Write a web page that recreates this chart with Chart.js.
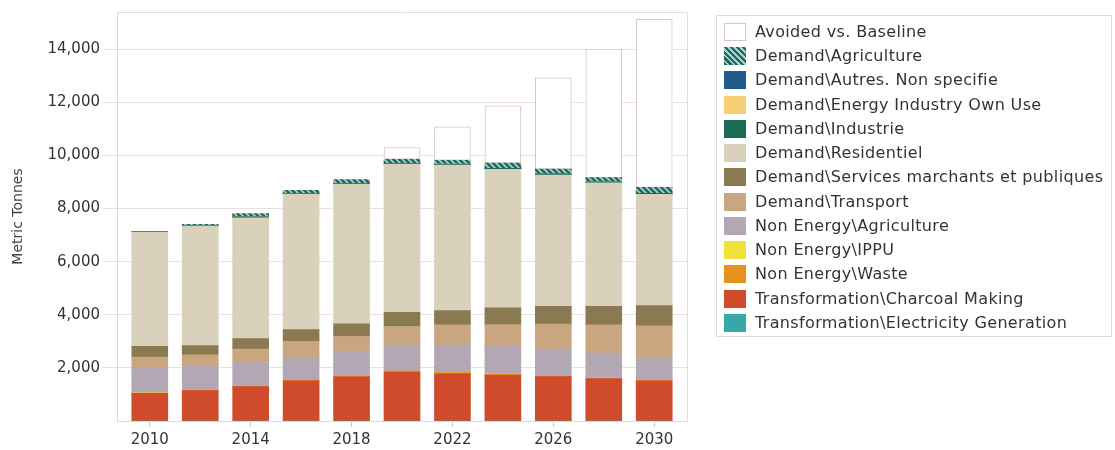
<!DOCTYPE html>
<html>
<head>
<meta charset="utf-8">
<script src="https://cdn.jsdelivr.net/npm/chart.js@4"></script>
<style>
  html,body{margin:0;padding:0;background:#fff;}
  #wrap{position:relative;width:1115px;height:450px;overflow:hidden;}
  #c{position:absolute;left:0;top:0;}
  #legend{position:absolute;left:716px;top:15px;width:396px;height:322px;border:1px solid #dcdcdc;box-sizing:border-box;
    font-family:"DejaVu Sans",sans-serif;font-size:16px;letter-spacing:0.35px;color:#333;}
  .item{position:absolute;left:7px;height:18px;line-height:18px;white-space:nowrap;}
  .sw{position:absolute;left:0;top:0;width:22px;height:18px;box-sizing:border-box;}
  .lt{position:absolute;left:31px;top:0;}
</style>
</head>
<body>
<div id="wrap">
<canvas id="c" width="1115" height="450"></canvas>
<div id="legend"></div>
</div>
<script>
// ---- data ----
const years = [2010, 2012, 2014, 2016, 2018, 2020, 2022, 2024, 2026, 2028, 2030];
const xTickLabels = [2010, 2014, 2018, 2022, 2026, 2030];
const yTickLabels = [2000, 4000, 6000, 8000, 10000, 12000, 14000];

const transElectricity = [0, 0, 0, 0, 0, 0, 0, 0, 0, 0, 0];
const transCharcoal    = [1045, 1145, 1296, 1510, 1660, 1840, 1790, 1730, 1670, 1600, 1510];
const neWaste          = [10, 15, 15, 20, 30, 35, 30, 30, 30, 30, 30];
const neIPPU           = [3, 3, 3, 3, 3, 3, 3, 3, 3, 3, 3];
const neAgriculture    = [935, 915, 890, 835, 925, 990, 1045, 1045, 1005, 920, 825];
const dTransport       = [415, 415, 505, 630, 565, 690, 755, 820, 945, 1070, 1220];
const dServices        = [400, 350, 390, 440, 480, 530, 530, 630, 665, 690, 755];
const dResidentiel     = [4300, 4490, 4555, 5095, 5245, 5575, 5485, 5220, 4945, 4655, 4190];
const dIndustrie       = [15, 20, 30, 30, 30, 30, 30, 35, 35, 35, 40];
const dEnergyOwnUse    = [2, 2, 2, 2, 2, 2, 2, 2, 2, 2, 2];
const dAutres          = [2, 2, 2, 2, 2, 2, 2, 2, 2, 2, 2];
const dAgriculture     = [10, 45, 120, 120, 145, 160, 145, 190, 180, 155, 220];
const avoided          = [0, 0, 0, 0, 0, 440, 1260, 2160, 3435, 4840, 6330];

// ---- styles ----
function hatch() {
  const p = document.createElement('canvas');
  p.width = 6; p.height = 6;
  const g = p.getContext('2d');
  g.fillStyle = '#a9d2cc'; g.fillRect(0, 0, 6, 6);
  g.strokeStyle = '#1c6a62'; g.lineWidth = 2.6;
  g.beginPath();
  g.moveTo(-3, -3); g.lineTo(9, 9);
  g.moveTo(-3, 3); g.lineTo(3, 9);
  g.moveTo(3, -3); g.lineTo(9, 3);
  g.stroke();
  return g.createPattern(p, 'repeat');
}
const ctx = document.getElementById('c').getContext('2d');

// stacking order: first = bottom
const series = [
  {label: 'Transformation\\Electricity Generation', data: transElectricity, color: '#3aa6a8'},
  {label: 'Transformation\\Charcoal Making', data: transCharcoal, color: '#cf4b2b'},
  {label: 'Non Energy\\Waste', data: neWaste, color: '#e8921e'},
  {label: 'Non Energy\\IPPU', data: neIPPU, color: '#f0e23a'},
  {label: 'Non Energy\\Agriculture', data: neAgriculture, color: '#b2a7b3'},
  {label: 'Demand\\Transport', data: dTransport, color: '#c9a680'},
  {label: 'Demand\\Services marchants et publiques', data: dServices, color: '#8a7a51'},
  {label: 'Demand\\Residentiel', data: dResidentiel, color: '#d9d1bc'},
  {label: 'Demand\\Industrie', data: dIndustrie, color: '#1b6a55'},
  {label: 'Demand\\Energy Industry Own Use', data: dEnergyOwnUse, color: '#f6cf76'},
  {label: 'Demand\\Autres. Non specifie', data: dAutres, color: '#215b8a'},
  {label: 'Demand\\Agriculture', data: dAgriculture, color: hatch(), hatched: true},
  {label: 'Avoided vs. Baseline', data: avoided, color: '#ffffff', border: '#d8c4c4'}
];

const datasets = series.map(s => ({
  label: s.label,
  data: s.data,
  backgroundColor: s.color,
  borderColor: s.border || s.color,
  borderWidth: s.border ? 1 : 0,
  borderSkipped: false,
  barThickness: 36
}));

const boxPlugin = {
  id: 'box',
  afterDatasetsDraw(chart) {
    const a = chart.chartArea, c = chart.ctx;
    c.save();
    c.strokeStyle = '#e6dcdc'; c.lineWidth = 1;
    c.beginPath();
    c.moveTo(a.left, a.top + 0.5); c.lineTo(a.right + 0.5, a.top + 0.5); c.lineTo(a.right + 0.5, a.bottom);
    c.stroke();
    c.restore();
  }
};

new Chart(ctx, {
  type: 'bar',
  data: {labels: years, datasets},
  plugins: [boxPlugin],
  options: {
    responsive: false,
    animation: false,
    layout: {padding: {left: 0, top: 12, right: 1115 - 687, bottom: 0}},
    plugins: {legend: {display: false}, tooltip: {enabled: false}},
    scales: {
      x: {
        type: 'linear', stacked: true, min: 2008.7, max: 2031.3, offset: false,
        afterBuildTicks: s => { s.ticks = xTickLabels.map(v => ({value: v})); },
        afterFit: s => { s.height = 29; },
        ticks: {color: '#333', padding: 4, font: {family: 'DejaVu Sans', size: 15}, callback: v => String(v)},
        grid: {offset: false, drawOnChartArea: false, drawTicks: true, tickLength: 6, color: '#d0c4c4'},
        border: {display: true, color: '#e2d6d6'}
      },
      y: {
        stacked: true, min: 0, max: 15400,
        afterBuildTicks: s => { s.ticks = yTickLabels.map(v => ({value: v})); },
        afterFit: s => { s.width = 117; },
        ticks: {color: '#333', padding: 3, font: {family: 'DejaVu Sans', size: 15},
          callback: v => v.toLocaleString('en-US')},
        grid: {color: '#ecdfdf', tickLength: 14},
        border: {display: true, color: '#e2d6d6'},
        title: {display: true, text: 'Metric Tonnes', color: '#444', font: {family: 'DejaVu Sans', size: 14},
          padding: {top: 10, bottom: 0}}
      }
    }
  }
});

// HTML legend (reverse of stacking order)
const leg = document.getElementById('legend');
series.slice().reverse().forEach((s, i) => {
  const it = document.createElement('div');
  it.className = 'item';
  it.style.top = (7 + i * 24.23) + 'px';
  const sw = document.createElement('div');
  sw.className = 'sw';
  if (s.hatched) {
    sw.style.background = 'repeating-linear-gradient(45deg, #1c6a62 0 2.2px, #a9d2cc 2.2px 4.2px)';
  } else {
    sw.style.background = s.color;
    sw.style.border = '1px solid ' + (s.border || s.color);
  }
  const t = document.createElement('span');
  t.className = 'lt';
  t.textContent = s.label;
  it.appendChild(sw); it.appendChild(t);
  leg.appendChild(it);
});
</script>
</body>
</html>
